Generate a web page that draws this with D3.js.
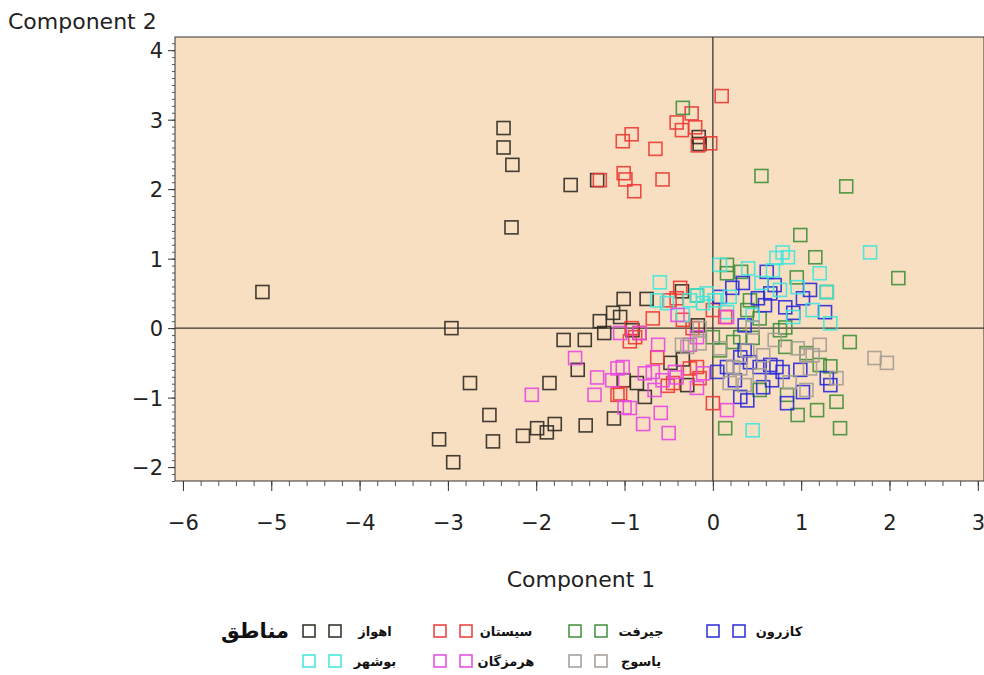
<!DOCTYPE html>
<html>
<head>
<meta charset="utf-8">
<script src="https://cdn.jsdelivr.net/npm/d3@7"></script>
<style>
  body { margin: 0; background: #fff; }
  svg { display: block; }
  .tick-label { font-family: "DejaVu Sans", sans-serif; font-size: 21px; fill: #222; }
  .axis-title { font-family: "DejaVu Sans", sans-serif; font-size: 22px; fill: #222; }
  .leg { font-family: "DejaVu Sans", sans-serif; font-weight: bold; fill: #111; }
</style>
</head>
<body>
<svg id="chart" width="984" height="675"></svg>
<script>
/* ───── data (component scores) ───── */
const regions = ['اهواز', 'سیستان', 'جیرفت', 'کازرون', 'بوشهر', 'هرمزگان', 'یاسوج'];
const regionColors = ['#2e2a22', '#ec3a36', '#3f8f3a', '#2a2ad8', '#3fe6dc', '#e548e0', '#a39c95'];

const ahvaz = [
  [-5.10, 0.52], [-2.96, 0.00], [-2.37, 2.88], [-2.37, 2.60], [-2.27, 2.35], [-2.28, 1.45],
  [-1.61, 2.06], [-1.31, 2.13], [-0.16, 2.75], [-0.15, 2.65], [-2.75, -0.79], [-2.53, -1.25],
  [-3.10, -1.60], [-2.94, -1.93], [-2.49, -1.63], [-2.15, -1.55], [-1.99, -1.44], [-1.88, -1.50],
  [-1.79, -1.38], [-1.85, -0.79], [-1.44, -1.40], [-1.12, -1.30], [-0.77, -0.99], [-1.69, -0.17],
  [-1.45, -0.17], [-1.28, 0.10], [-1.23, -0.07], [-1.13, 0.22], [-1.05, 0.16], [-1.01, 0.42],
  [-0.75, 0.42], [-0.35, 0.53], [-0.17, 0.04], [-1.53, -0.60], [-1.01, -0.75], [-0.86, -0.79],
  [-0.48, -0.50], [-0.34, -0.45], [-0.29, -0.82], [-0.91, -0.03]
];
const sistan = [
  [0.10, 3.34], [-0.24, 3.09], [-0.41, 2.96], [-0.35, 2.85], [-0.20, 2.89], [-0.17, 2.63],
  [-0.03, 2.66], [-0.92, 2.79], [-1.02, 2.69], [-0.65, 2.58], [-1.01, 2.23], [-0.99, 2.14],
  [-0.89, 1.97], [-0.57, 2.14], [-1.28, 2.13], [-0.37, 0.58], [-0.41, 0.43], [-0.49, 0.40],
  [-0.68, 0.14], [-0.92, 0.00], [-0.88, -0.13], [-0.94, -0.19], [-0.34, 0.12], [-0.23, 0.00],
  [0.00, 0.26], [0.14, 0.16], [-0.18, -0.56], [-0.51, -0.83], [-0.45, -0.79], [-1.05, -0.94],
  [0.00, -1.08], [-0.63, -0.42], [-0.26, -0.58], [-0.83, -0.07], [-1.08, -0.96], [-0.15, -0.72]
];
const jiroft = [
  [-0.34, 3.17], [0.55, 2.19], [1.51, 2.04], [0.99, 1.34], [2.10, 0.72], [1.16, 1.02],
  [0.16, 0.91], [0.16, 0.79], [0.32, 0.81], [-0.18, 0.47], [1.55, -0.20], [1.40, -1.06],
  [1.44, -1.44], [1.18, -1.18], [0.96, -1.25], [0.14, -1.44], [1.33, -0.55], [0.84, -0.96],
  [0.82, -0.27], [1.21, -0.53], [0.95, 0.73], [1.29, 0.52], [0.76, -0.03], [0.53, 0.14],
  [0.00, -0.13], [0.31, -0.13], [0.45, -0.14], [0.82, 0.01], [0.39, 0.26], [0.42, 0.40],
  [0.23, -0.20], [1.06, -0.36], [0.08, -0.32], [0.53, -0.89]
];
const kazerun = [
  [0.61, 0.81], [0.34, 0.65], [0.22, 0.58], [0.51, 0.43], [0.65, 0.50], [0.82, 0.30],
  [0.91, 0.22], [1.10, 0.55], [1.27, 0.23], [0.36, 0.04], [0.08, 0.45], [0.05, -0.63],
  [0.16, -0.56], [0.31, -0.42], [0.42, -0.49], [0.53, -0.56], [0.65, -0.53], [0.72, -0.56],
  [0.31, -0.99], [0.39, -1.04], [0.57, -0.85], [0.84, -1.08], [1.02, -0.92], [1.33, -0.82],
  [0.36, -0.32], [0.25, -0.75], [0.70, 0.62], [0.59, 0.33], [0.99, -0.60], [0.67, -0.75],
  [0.79, -0.63], [1.29, -0.72], [1.02, 0.43]
];
const bushehr = [
  [1.78, 1.09], [0.79, 1.09], [0.85, 1.02], [0.72, 1.01], [1.21, 0.79], [1.29, 0.52],
  [0.68, 0.83], [-0.60, 0.66], [-0.63, 0.40], [-0.52, 0.36], [-0.18, 0.47], [-0.07, 0.50],
  [-0.11, 0.36], [-0.34, 0.19], [0.19, 0.45], [0.16, 0.23], [0.45, 0.19], [1.33, 0.07],
  [0.91, 0.16], [0.76, 0.55], [0.45, -1.47], [0.96, 0.59], [1.13, 0.26], [0.40, 0.86],
  [0.08, 0.91], [0.55, 0.65], [-0.26, 0.40], [0.02, 0.40]
];
const hormozgan = [
  [-1.56, -0.43], [-2.05, -0.96], [-1.31, -0.71], [-1.34, -0.96], [-1.08, -0.58], [-1.00, -1.14],
  [-0.94, -1.15], [-0.79, -1.38], [-0.59, -1.22], [-0.50, -1.51], [-0.68, -0.63], [-0.57, -0.75],
  [-0.41, -0.71], [-0.18, -0.86], [-1.05, -0.07], [-0.83, -0.07], [0.16, 0.16], [-0.62, -0.24],
  [-1.02, -0.56], [-0.77, -0.65], [-0.43, -0.63], [-0.11, -0.65], [-0.18, -0.13], [0.16, -1.18],
  [-0.26, -0.24], [-0.66, -0.89], [-1.14, -0.75], [-0.40, 0.19]
];
const yasuj = [
  [1.83, -0.43], [1.97, -0.50], [0.96, -0.29], [1.06, -0.39], [1.13, -0.39], [1.10, -0.58],
  [1.40, -0.72], [0.87, -0.78], [1.06, -0.89], [0.57, -0.39], [0.23, -0.56], [0.31, -0.58],
  [0.08, -0.29], [0.39, -0.32], [0.19, -0.79], [-0.35, -0.24], [-0.15, -0.22], [-0.29, -0.27],
  [0.45, 0.01], [0.70, -0.17], [0.53, -0.68], [-0.15, 0.00], [0.36, -0.82], [1.21, -0.24]
];
const groups = [ahvaz, sistan, jiroft, kazerun, bushehr, hormozgan, yasuj];

const xTicks = [-6, -5, -4, -3, -2, -1, 0, 1, 2, 3];
const yTicks = [-2, -1, 0, 1, 2, 3, 4];
/* ────────────────────────────────────────────── */

const svg = d3.select('#chart');
const plot = { left: 175, right: 984, top: 37, bottom: 481 };

const x = d3.scaleLinear().domain([-6.09, 3.07]).range([plot.left, plot.right]);
const y = d3.scaleLinear().domain([-2.2, 4.19]).range([plot.bottom, plot.top]);

// background panel
svg.append('rect')
  .attr('x', plot.left).attr('y', plot.top)
  .attr('width', plot.right - plot.left).attr('height', plot.bottom - plot.top)
  .attr('fill', '#f9dfc2')
  .attr('stroke', '#333').attr('stroke-width', 1);

// reference lines through the origin
svg.append('line')
  .attr('x1', x(0)).attr('x2', x(0)).attr('y1', plot.top).attr('y2', plot.bottom)
  .attr('stroke', '#3a342c').attr('stroke-width', 1.3);
svg.append('line')
  .attr('x1', plot.left).attr('x2', plot.right).attr('y1', y(0)).attr('y2', y(0))
  .attr('stroke', '#3a342c').attr('stroke-width', 1.3);

// points
const S = 13;
groups.forEach((pts, i) => {
  svg.append('g')
    .selectAll('rect')
    .data(pts)
    .join('rect')
      .attr('x', (d) => x(d[0]) - S / 2)
      .attr('y', (d) => y(d[1]) - S / 2)
      .attr('width', S).attr('height', S)
      .attr('fill', 'none')
      .attr('stroke', regionColors[i])
      .attr('stroke-width', 1.6)
      .attr('opacity', 0.9);
});

// y axis
const yAx = svg.append('g')
  .attr('transform', `translate(${plot.left},0)`)
  .call(d3.axisLeft(y).tickValues(d3.range(-22, 42).map((v) => v / 10)).tickSize(3).tickFormat(''));
yAx.select('.domain').remove();
yAx.selectAll('line').attr('stroke', '#555');
svg.append('g')
  .attr('transform', `translate(${plot.left},0)`)
  .call(d3.axisLeft(y).tickValues(yTicks).tickSize(7).tickPadding(5).tickFormat(d3.format('d')))
  .call((g) => g.select('.domain').remove())
  .call((g) => g.selectAll('line').attr('stroke', '#333'))
  .call((g) => g.selectAll('text').attr('class', 'tick-label').attr('dy', '0.36em'));

// x axis
const xAx = svg.append('g')
  .attr('transform', `translate(0,${plot.bottom})`)
  .call(d3.axisBottom(x).tickValues(d3.range(-30, 16).map((v) => v / 5)).tickSize(5).tickFormat(''));
xAx.select('.domain').remove();
xAx.selectAll('line').attr('stroke', '#555');
svg.append('g')
  .attr('transform', `translate(0,${plot.bottom})`)
  .call(d3.axisBottom(x).tickValues(xTicks).tickSize(10).tickPadding(24).tickFormat(d3.format('d')))
  .call((g) => g.select('.domain').remove())
  .call((g) => g.selectAll('line').attr('stroke', '#333'))
  .call((g) => g.selectAll('text').attr('class', 'tick-label'));

// axis titles
svg.append('text').attr('class', 'axis-title')
  .attr('x', 8).attr('y', 29).text('Component 2');
svg.append('text').attr('class', 'axis-title')
  .attr('x', 581).attr('y', 587).attr('text-anchor', 'middle').text('Component 1');

// legend
svg.append('text').attr('class', 'leg')
  .attr('x', 255).attr('y', 638).attr('font-size', 21)
  .attr('text-anchor', 'middle').text('مناطق');

const colX = [303, 434, 569, 707];
const rowY = [631, 661];
regions.forEach((name, i) => {
  const col = i < 4 ? i : i - 4;
  const row = i < 4 ? 0 : 1;
  const g = svg.append('g').attr('transform', `translate(${colX[col]},${rowY[row]})`);
  [0, 26].forEach((dx) => {
    g.append('rect')
      .attr('x', dx).attr('y', -6).attr('width', 12).attr('height', 12)
      .attr('fill', 'none').attr('stroke', regionColors[i]).attr('stroke-width', 1.5);
  });
  g.append('text').attr('class', 'leg')
    .attr('x', 72).attr('y', 5).attr('font-size', 13)
    .attr('text-anchor', 'middle').text(name);
});
</script>
</body>
</html>
